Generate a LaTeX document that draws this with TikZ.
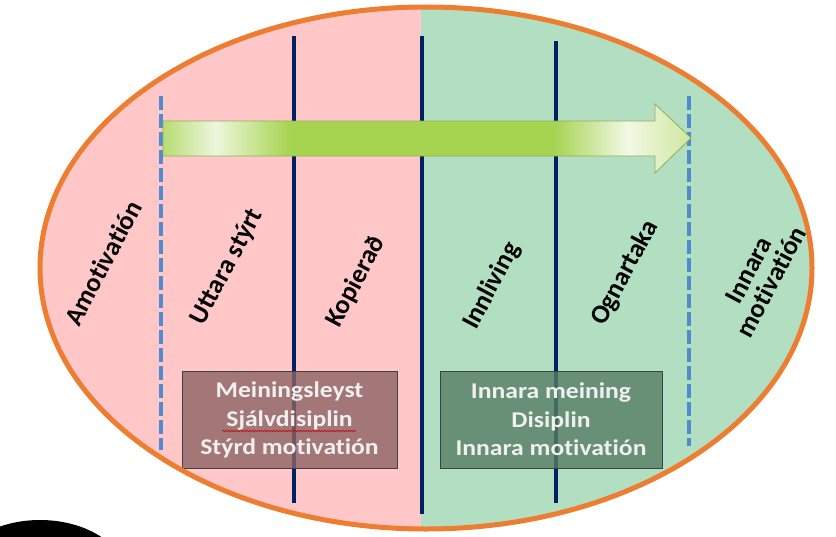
\documentclass[tikz,border=0pt]{standalone}
\usepackage{fontspec}
\setmainfont{Carlito}[Ligatures=NoCommon]
\usetikzlibrary{decorations.pathmorphing}
\definecolor{pinkbg}{RGB}{255,199,199}
\definecolor{greenbg}{RGB}{178,223,193}
\definecolor{rimorange}{RGB}{237,125,49}
\definecolor{navyline}{RGB}{0,32,96}
\definecolor{dashblue}{RGB}{80,140,205}
\definecolor{arrowgreen}{RGB}{166,212,80}
\definecolor{arrowedge}{RGB}{150,170,90}
\definecolor{brownbox}{RGB}{140,100,100}
\definecolor{greenbox}{RGB}{85,125,100}
\pgfdeclarehorizontalshading{arrowshade}{100bp}{color(0bp)=(arrowgreen!80!white);
  color(25bp)=(arrowgreen!80!white); color(30bp)=(arrowgreen!20!white); color(37bp)=(arrowgreen);
  color(62bp)=(arrowgreen); color(69bp)=(arrowgreen!15!white); color(75bp)=(arrowgreen!55!white);
  color(100bp)=(arrowgreen!55!white)}
\tikzset{
  divider/.style={navyline,line width=3.5pt},
  dashdivider/.style={dashblue,line width=3.5pt,dash pattern=on 14pt off 4pt},
  stage/.style={font=\fontsize{26.5}{25}\selectfont\bfseries,rotate=62,align=center},
  infobox/.style={draw=black!75,line width=1pt,fill opacity=.8,text opacity=1,
    text=white!94!black,minimum width=#1,minimum height=97pt,align=center,
    font=\fontsize{22.5}{28.5}\selectfont\bfseries\addfontfeature{FakeStretch=1.14}},
  spellmark/.style={red!80!black,line width=.6pt,decorate,
    decoration={snake,amplitude=.8pt,segment length=3pt}}
}
\begin{document}
\begin{tikzpicture}[x=1pt,y=-1pt]
\useasboundingbox (0,0) rectangle (836,536);
\clip (0,0) rectangle (836,536);
% background halves
\begin{scope}
\clip (426,268) ellipse [x radius=386,y radius=261];
\fill[pinkbg] (0,0) rectangle (421,536);
\fill[greenbg] (421,0) rectangle (836,536);
\end{scope}
% borders between stages
\foreach \x/\top/\bot[count=\i] in {294/36/503, 422/36/514, 556/41/503}{
  \coordinate (s\i t) at (\x,\top);
  \coordinate (s\i b) at (\x,\bot);
  \draw[divider] (s\i t) -- (s\i b);
}
\foreach \x/\top/\bot[count=\i] in {161/96/450, 689/96/446}{
  \coordinate (d\i t) at (\x,\top);
  \coordinate (d\i b) at (\x,\bot);
  \draw[dashdivider] (d\i t) -- (d\i b);
}
% arrow
\shade[shading=arrowshade,draw=arrowedge,line width=.8pt]
  (163,121) -- (655,121) -- (655,104) -- (691,138) -- (655,173) -- (655,156) -- (163,156) -- cycle;
% stage labels
\foreach \t/\x/\y[count=\i] in {
  Amotivatión/103/263,
  Uttara stýrt/227/267,
  Kopierað/356/282,
  Innliving/492/286,
  Ognartaka/625/273,
  {Innara\\motivatión}/760/276
}
\node[stage] (lab\i) at (\x,\y) {\t};
% boxes
\node[infobox=215pt,fill=brownbox] (extbox) at (289.5,420) {Meiningsleyst\\Sjálvdisiplin\\Stýrd motivatión};
\node[infobox=222pt,fill=greenbox] (intbox) at (551,419.5) {Innara meining\\Disiplin\\Innara motivatión};
\draw[spellmark] (222,431) -- (356,431);
% rim
\draw[rimorange,line width=5pt] (426,268) ellipse [x radius=386,y radius=261];
\fill[black] (40,580) ellipse [x radius=88,y radius=60];
\end{tikzpicture}
\end{document}
